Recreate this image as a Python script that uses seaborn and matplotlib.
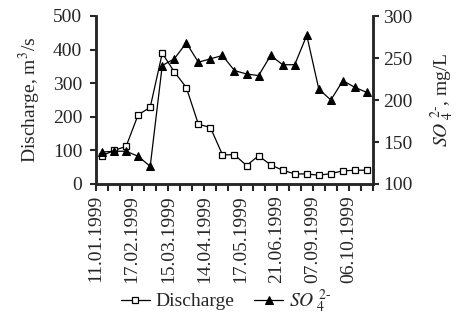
import numpy as np
import pandas as pd
import seaborn as sns
import matplotlib.pyplot as plt

# sampling index (23 samples) and readings
discharge = [84, 100, 112, 206, 228, 389, 334, 287, 178, 168, 87, 87,
             55, 84, 57, 41, 30, 30, 26, 31, 39, 41, 41]
sulfate = [138, 139, 139, 133, 121, 241, 249, 268, 245, 249, 253, 235,
           231, 229, 253, 242, 242, 277, 213, 200, 223, 215, 209]
date_labels = ['11.01.1999', '17.02.1999', '15.03.1999', '14.04.1999',
               '17.05.1999', '21.06.1999', '07.09.1999', '06.10.1999']
label_every = 3

df = pd.DataFrame({'idx': np.arange(len(discharge)),
                   'discharge': discharge,
                   'sulfate': sulfate})

sns.set_style("ticks")
plt.rcParams['font.family'] = ['Liberation Serif', 'DejaVu Serif']
plt.rcParams['mathtext.fontset'] = 'stix'
plt.rcParams['font.size'] = 14

fig = plt.figure(figsize=(4.62, 3.22), dpi=100)
ax = fig.add_axes([96/462, 1-184/322, (373-96)/462, (184-16)/322])
ax2 = ax.twinx()

so4 = r'$SO_{\ 4}^{\ 2\text{-}}$'

sns.lineplot(data=df, x='idx', y='discharge', ax=ax, color='black',
             linewidth=0.9, marker='s', markersize=4.5,
             markerfacecolor='white', markeredgecolor='black',
             markeredgewidth=0.9, label='Discharge', legend=False)
sns.lineplot(data=df, x='idx', y='sulfate', ax=ax2, color='black',
             linewidth=0.9, marker='^', markersize=5.5,
             markerfacecolor='black', markeredgecolor='black',
             label=so4, legend=False)

ax.set_xlim(-0.5, len(discharge) - 0.5)
ax.set_ylim(0, 500)
ax2.set_ylim(100, 300)
ax.set_yticks(range(0, 501, 100))
ax2.set_yticks(range(100, 301, 50))

# ticks on the boundaries between samples, every third labelled
bounds = np.arange(-0.5, len(discharge), 1)
labels = [''] * len(bounds)
for k, lab in enumerate(date_labels):
    labels[k * label_every] = lab
ax.set_xticks(bounds)
ax.set_xticklabels(labels, rotation=90)

ax.set_xlabel(None)
ax.set_ylabel('Discharge, m$^3$/s', labelpad=7)
ax2.set_ylabel(so4 + ', mg/L', labelpad=12)

for a in (ax, ax2):
    a.spines['top'].set_visible(False)
    for s in ('left', 'right', 'bottom'):
        a.spines[s].set_linewidth(1.8)
    a.tick_params(width=1.5, length=4, pad=3)
ax.tick_params(axis='y', pad=6)
ax.tick_params(axis='x', length=5, pad=3)

h1, l1 = ax.get_legend_handles_labels()
h2, l2 = ax2.get_legend_handles_labels()
fig.legend(h1 + h2, l1 + l2, ncol=2, frameon=False, loc='center',
           bbox_to_anchor=(226/462, 1 - 301/322), handlelength=1.5,
           columnspacing=1.0, handletextpad=0.3)

fig.savefig('out.png', dpi=100)
